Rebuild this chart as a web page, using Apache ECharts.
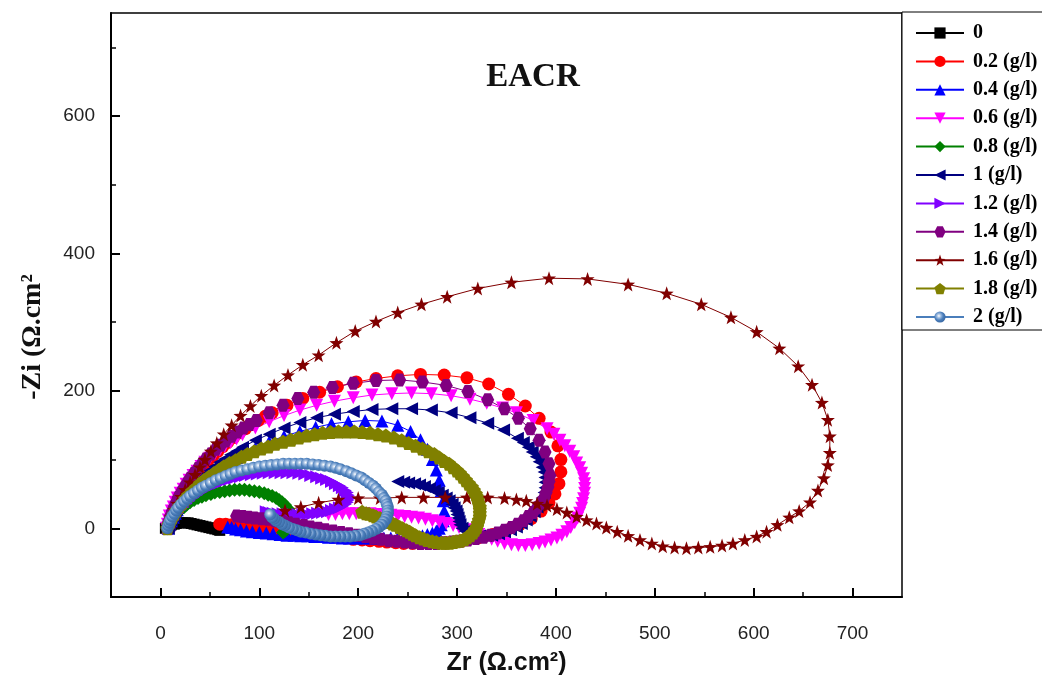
<!DOCTYPE html>
<html>
<head>
<meta charset="utf-8">
<script src="https://cdn.jsdelivr.net/npm/echarts@6/dist/echarts.min.js"></script>
<style>
  html, body { margin: 0; padding: 0; background: #fff; }
  #chart { width: 1042px; height: 685px; }
</style>
</head>
<body>
<div id="chart"></div>
<script>
// axis ticks
const xMajorTicks = [0, 100, 200, 300, 400, 500, 600, 700];
const xMinorTicks = [50, 150, 250, 350, 450, 550, 650];
const yMajorTicks = [0, 200, 400, 600];
const yMinorTicks = [100, 300, 500, 700];

const seriesNames = ['0', '0.2 (g/l)', '0.4 (g/l)', '0.6 (g/l)', '0.8 (g/l)', '1 (g/l)',
  '1.2 (g/l)', '1.4 (g/l)', '1.6 (g/l)', '1.8 (g/l)', '2 (g/l)'];

// [Zr, -Zi] pairs
const c0 = [[5,0],[7,2],[9,3],[11,5],[14,6],[16,7],[19,8],[22,8],[25,8],[28,8],[31,7],[34,6],[37,5],
  [40,4],[43,3],[46,2],[49,1],[52,0],[55,-1],[58,-2],[60,-3]];

const c02 = [[9,0],[10,6],[11,11],[12,17],[14,23],[16,30],[18,36],[20,42],[23,49],[26,56],[29,63],
  [32,70],[36,77],[40,84],[44,91],[48,98],[53,105],[58,112],[63,119],[68,125],[74,132],[80,139],
  [86,145],[92,151],[99,157],[106,163],[113,168],[128,179],[144,189],[161,198],[179,206],[198,213],
  [218,218],[240,222],[263,224],[287,223],[310,219],[332,210],[352,195],[369,178],[383,160],[395,140],
  [402,120],[405,100],[405,82],[403,65],[399,50],[393,37],[385,25],[375,14],[363,5],[350,-3],[336,-9],
  [321,-14],[305,-18],[297,-20],[289,-21],[280,-22],[272,-22],[263,-22],[255,-22],[246,-22],[238,-21],
  [229,-20],[221,-19],[212,-18],[204,-17],[195,-16],[187,-14],[178,-13],[170,-11],[161,-10],[153,-8],
  [144,-7],[136,-5],[127,-4],[119,-2],[110,0],[102,1],[94,2],[86,3],[79,4],[72,5],[66,6],[60,6]];

const c04 = [[8,0],[9,5],[11,11],[13,16],[15,22],[17,27],[20,33],[23,38],[26,44],[29,49],[33,55],
  [37,60],[41,66],[45,71],[50,77],[55,82],[60,88],[65,93],[71,98],[77,103],[83,108],[96,117],
  [110,126],[125,134],[141,141],[157,147],[173,152],[190,155],[207,157],[224,156],[240,150],[253,141],
  [263,129],[270,115],[275,100],[279,85],[282,70],[284,55],[286,40],[287,25],[287,18],[286,11],[284,5],
  [282,0],[279,-4],[275,-7],[270,-9],[265,-11],[259,-12],[253,-13],[246,-14],[240,-14],[233,-14],
  [226,-14],[219,-14],[212,-14],[205,-14],[198,-14],[191,-14],[184,-14],[177,-13],[170,-13],[163,-12],
  [156,-12],[149,-11],[142,-11],[135,-10],[128,-10],[121,-9],[114,-8],[107,-7],[100,-6],[93,-5],
  [87,-4],[81,-2],[76,-1],[72,1],[68,2]];

const c06 = [[6,0],[7,6],[8,12],[9,18],[11,25],[13,31],[15,38],[17,44],[20,51],[23,57],[26,64],
  [29,70],[33,77],[37,83],[41,90],[45,96],[50,102],[55,108],[60,114],[65,119],[71,125],[77,130],
  [83,136],[96,146],[110,155],[125,164],[141,172],[158,179],[176,185],[195,190],[214,194],[234,196],
  [254,197],[274,196],[294,193],[313,188],[330,182],[346,175],[360,168],[377,157],[391,145],[398,137],
  [404,128],[409,120],[414,112],[418,104],[421,95],[424,88],[426,80],[428,72],[429,65],[429,58],
  [429,51],[428,43],[427,36],[426,29],[424,22],[422,15],[419,8],[415,1],[411,-5],[406,-10],[401,-14],
  [395,-17],[389,-20],[383,-22],[376,-24],[369,-25],[362,-25],[355,-24],[348,-22],[341,-19],[335,-16],
  [328,-12],[322,-9],[315,-5],[309,-2],[302,1],[296,4],[289,7],[282,9],[275,11],[268,13],[261,15],
  [254,16],[247,17],[240,18],[233,19],[226,20],[219,20],[212,21],[205,21],[198,21],[191,21],[184,21],
  [177,20],[170,20]];

const c08 = [[7,0],[8,3],[9,7],[10,10],[12,14],[14,17],[16,21],[18,24],[21,28],[24,31],[27,35],
  [30,38],[34,41],[38,44],[42,46],[46,48],[51,50],[55,52],[60,53],[65,54],[70,55],[75,56],[80,56],
  [85,56],[90,55],[95,54],[100,53],[105,51],[109,49],[113,47],[117,44],[120,41],[123,38],[126,34],
  [128,30],[130,26],[131,22],[132,18],[132,14],[132,10],[131,6],[130,2],[128,-1],[126,-4],[124,-6]];

const c10 = [[8,0],[9,6],[11,12],[13,18],[15,24],[17,30],[20,36],[23,42],[26,48],[29,54],[33,60],
  [37,66],[41,72],[45,78],[50,84],[55,90],[60,96],[65,101],[71,107],[77,112],[83,118],[96,128],
  [110,137],[125,146],[141,154],[158,161],[176,166],[195,170],[214,173],[234,174],[254,174],[274,172],
  [294,168],[313,161],[331,153],[347,143],[361,131],[367,125],[372,118],[376,111],[380,104],[383,97],
  [386,89],[388,82],[389,74],[389,67],[389,59],[388,52],[386,44],[384,37],[381,31],[378,24],[374,18],
  [370,12],[365,7],[360,2],[354,-2],[348,-5],[342,-8],[335,-10],[329,-11],[323,-11],[317,-10],[312,-7],
  [308,-4],[305,0],[303,5],[302,10],[301,15],[300,20],[299,25],[297,30],[295,35],[292,40],[289,44],
  [285,48],[281,52],[277,55],[272,58],[267,61],[262,63],[257,65],[251,66],[246,67],[240,68]];

const c12 = [[8,0],[9,4],[11,9],[13,13],[15,18],[17,22],[20,27],[23,31],[26,36],[29,40],[33,45],
  [37,49],[41,53],[45,57],[50,60],[55,63],[60,66],[65,69],[70,71],[75,73],[81,75],[86,77],[92,78],
  [98,79],[104,80],[110,81],[116,81],[122,81],[128,81],[134,81],[140,80],[146,79],[152,77],[158,75],
  [163,73],[168,71],[173,68],[177,65],[181,62],[184,59],[187,55],[189,52],[190,48],[191,45],[190,41],
  [189,38],[187,35],[184,32],[181,30],[177,28],[173,26],[169,24],[164,23],[159,22],[154,21],[149,20],
  [144,20],[139,20],[134,20],[129,20],[124,21],[119,21],[114,22],[110,23],[107,24]];

const c14 = [[7,0],[8,6],[9,12],[10,18],[12,25],[14,31],[16,38],[18,45],[21,52],[24,59],[27,66],
  [30,73],[34,80],[38,87],[42,94],[46,101],[51,108],[56,115],[61,121],[66,127],[72,134],[78,140],
  [84,146],[90,151],[97,157],[110,168],[124,179],[139,189],[155,198],[174,205],[195,211],[218,215],
  [242,216],[265,213],[289,208],[311,199],[331,187],[348,174],[362,160],[374,145],[383,128],[389,111],
  [393,94],[394,77],[393,68],[392,60],[390,52],[388,44],[385,37],[381,30],[377,23],[372,17],[367,11],
  [361,6],[355,1],[348,-3],[341,-7],[334,-10],[327,-13],[319,-15],[311,-17],[303,-19],[295,-20],
  [287,-21],[279,-22],[271,-22],[263,-22],[255,-21],[247,-20],[239,-19],[231,-18],[223,-16],[215,-14],
  [207,-12],[199,-10],[191,-8],[183,-6],[175,-4],[167,-2],[160,0],[152,2],[145,4],[137,6],[130,8],
  [123,10],[116,11],[109,13],[102,14],[95,15],[89,16],[83,17],[77,18]];

const c16 = [[8,0],[9,8],[11,17],[14,27],[17,36],[21,46],[25,56],[30,67],[35,78],[40,89],
  [45,100],[51,112],[57,124],[64,137],[72,150],[81,164],[91,178],[102,193],[115,208],[129,223],
  [144,238],[160,252],[178,270],[197,287],[218,301],[240,314],[264,326],[290,337],[321,349],[355,358],
  [393,364],[432,363],[473,355],[512,342],[547,326],[577,307],[603,286],[626,262],[645,236],[659,209],
  [669,183],[675,158],[677,134],[677,110],[675,92],[671,73],[665,55],[657,38],[646,25],[636,16],
  [624,5],[613,-5],[603,-12],[591,-17],[579,-22],[568,-25],[556,-27],[544,-28],[532,-29],[520,-28],
  [508,-26],[497,-22],[485,-17],[473,-11],[462,-5],[451,1],[441,7],[431,12],[421,17],[411,23],
  [401,28],[391,33],[381,36],[370,40],[360,42],[348,44],[331,45],[310,45],[288,45],[266,45],
  [244,45],[222,44],[200,44],[180,42],[160,37],[142,31],[126,26]];

const c18 = [[7,0],[8,5],[10,10],[12,16],[14,21],[16,26],[19,32],[22,37],[25,43],[28,48],[32,54],
  [36,59],[40,65],[44,70],[49,75],[54,80],[59,85],[64,90],[70,95],[76,99],[82,104],[88,108],[95,112],
  [102,116],[109,119],[116,123],[124,126],[132,129],[140,132],[148,135],[156,137],[164,139],[172,140],
  [180,141],[188,141],[196,141],[204,140],[212,139],[220,137],[228,135],[236,132],[244,128],[251,124],
  [258,120],[265,116],[271,112],[277,108],[282,103],[287,98],[292,94],[296,89],[300,84],[303,80],
  [306,75],[309,70],[312,65],[315,60],[317,55],[319,50],[320,46],[321,41],[322,36],[323,31],[323,27],
  [323,22],[323,17],[322,12],[321,7],[320,2],[318,-2],[316,-6],[313,-10],[310,-13],[307,-16],[303,-18],
  [299,-19],[296,-20],[292,-21],[288,-21],[284,-21],[279,-20],[275,-19],[270,-17],[266,-15],[262,-13],
  [258,-10],[255,-8],[252,-5],[249,-3],[245,0],[242,2],[238,5],[235,7],[231,9],[228,11],[225,13],
  [222,15],[218,17],[215,19],[211,21],[208,22],[204,24]];

const c20 = [[7,0],[8,4],[9,8],[10,12],[12,17],[14,21],[16,26],[18,30],[21,35],[24,39],[27,43],
  [30,47],[34,51],[38,55],[42,59],[46,62],[51,66],[56,70],[61,73],[66,76],[71,79],[76,82],[82,84],
  [88,86],[94,88],[100,90],[106,91],[112,92],[118,93],[124,94],[130,94],[136,94],[142,94],[148,94],
  [154,93],[160,92],[166,91],[172,90],[177,88],[182,86],[188,83],[193,80],[198,77],[203,74],[207,70],
  [211,66],[215,62],[218,58],[221,53],[224,49],[226,44],[228,40],[229,35],[230,31],[230,26],[230,22],
  [229,17],[228,13],[226,9],[224,5],[221,2],[218,-1],[214,-4],[210,-6],[206,-8],[202,-10],[197,-11],
  [192,-12],[187,-12],[182,-12],[177,-12],[172,-12],[167,-11],[162,-10],[157,-9],[152,-8],[147,-6],
  [142,-5],[138,-3],[134,-1],[130,1],[126,4],[123,6],[120,9],[117,11],[115,14],[113,16],[111,20]];

const curves = [c0, c02, c04, c06, c08, c10, c12, c14, c16, c18, c20];

// marker shapes
const starPath = 'path://M50,0 L61.76,33.82 L97.55,34.55 L69.02,56.18 L79.39,90.45 L50,70 L20.61,90.45 L30.98,56.18 L2.45,34.55 L38.24,33.82 Z';
const pentagonPath = 'path://M50,0 L97.55,34.55 L79.39,90.45 L20.61,90.45 L2.45,34.55 Z';
const hexagonPath = 'path://M25,0 L75,0 L100,43.3 L75,86.6 L25,86.6 L0,43.3 Z';
const downTri = 'path://M0,0 L10,0 L5,9 Z';
const leftTri = 'path://M9,0 L9,10 L0,5 Z';
const rightTri = 'path://M0,0 L9,5 L0,10 Z';

const styles = [
  { color: '#000000', symbol: 'rect', size: 11 },
  { color: '#ff0000', symbol: 'circle', size: 13 },
  { color: '#0000ff', symbol: 'triangle', size: 13 },
  { color: '#ff00ff', symbol: downTri, size: 13 },
  { color: '#008000', symbol: 'diamond', size: 14 },
  { color: '#000080', symbol: leftTri, size: 13 },
  { color: '#8000ff', symbol: rightTri, size: 13 },
  { color: '#800080', symbol: hexagonPath, size: 13 },
  { color: '#800000', symbol: starPath, size: 14 },
  { color: '#808000', symbol: pentagonPath, size: 14 },
  { color: '#4a7ebb', symbol: 'circle', size: 12 }
];

const ballFill = {
  type: 'radial', x: 0.4, y: 0.4, r: 0.6,
  colorStops: [
    { offset: 0, color: '#ffffff' },
    { offset: 0.3, color: '#9dbbe0' },
    { offset: 0.65, color: '#4a7ebb' },
    { offset: 1, color: '#3a6aa5' }
  ]
};

const series = curves.map((pts, i) => ({
  name: seriesNames[i],
  type: 'line',
  data: pts,
  symbol: styles[i].symbol,
  symbolSize: styles[i].size,
  showAllSymbol: true,
  lineStyle: { color: styles[i].color, width: 1 },
  itemStyle: { color: i === 10 ? ballFill : styles[i].color },
  emphasis: { disabled: true },
  xAxisIndex: 0,
  yAxisIndex: 0
}));

const chart = echarts.init(document.getElementById('chart'));
chart.setOption({
  animation: false,
  backgroundColor: '#fff',
  title: {
    text: 'EACR',
    left: 528,
    top: 56,
    textAlign: 'center',
    textStyle: { fontFamily: 'Liberation Serif', fontWeight: 'bold', fontSize: 33, color: '#111' }
  },
  grid: {
    left: 111, right: 140, top: 13, bottom: 88,
    show: true, borderColor: '#000', borderWidth: 1.5, backgroundColor: 'transparent'
  },
  legend: {
    orient: 'vertical',
    left: 902,
    top: 12,
    padding: [11, 10, 3, 13],
    itemWidth: 48,
    itemHeight: 14,
    itemGap: 8.4,
    borderColor: '#000',
    borderWidth: 1,
    backgroundColor: '#fff',
    textStyle: { fontFamily: 'Liberation Serif', fontWeight: 'bold', fontSize: 20, color: '#000', padding: [0, 0, 0, 4] },
    data: seriesNames
  },
  xAxis: [
    {
      type: 'value', min: -50, max: 750,
      name: 'Zr (Ω.cm²)', nameLocation: 'middle', nameGap: 54,
      nameTextStyle: { fontFamily: 'Liberation Sans', fontWeight: 'bold', fontSize: 25, color: '#111' },
      axisLine: { onZero: false, lineStyle: { color: '#000', width: 2 } },
      axisTick: { inside: true, length: 9, customValues: xMajorTicks, lineStyle: { color: '#000', width: 2 } },
      axisLabel: { customValues: xMajorTicks, margin: 27, fontFamily: 'Liberation Sans Narrow, Liberation Sans', fontSize: 19, color: '#222' },
      splitLine: { show: false }
    },
    {
      type: 'value', min: -50, max: 750, position: 'bottom',
      axisLine: { show: false, onZero: false },
      axisTick: { inside: true, length: 5, customValues: xMinorTicks, lineStyle: { color: '#000', width: 1.5 } },
      axisLabel: { show: false },
      splitLine: { show: false }
    }
  ],
  yAxis: [
    {
      type: 'value', min: -100, max: 750,
      name: '-Zi (Ω.cm²', nameLocation: 'middle', nameGap: 64,
      nameTextStyle: { fontFamily: 'Liberation Serif', fontWeight: 'bold', fontSize: 28, color: '#111', padding: [0, 64, 0, 0] },
      axisLine: { onZero: false, lineStyle: { color: '#000', width: 2 } },
      axisTick: { inside: true, length: 9, customValues: yMajorTicks, lineStyle: { color: '#000', width: 2 } },
      axisLabel: { customValues: yMajorTicks, margin: 16, fontFamily: 'Liberation Sans', fontSize: 19, color: '#222' },
      splitLine: { show: false }
    },
    {
      type: 'value', min: -100, max: 750, position: 'left',
      axisLine: { show: false, onZero: false },
      axisTick: { inside: true, length: 5, customValues: yMinorTicks, lineStyle: { color: '#000', width: 1.5 } },
      axisLabel: { show: false },
      splitLine: { show: false }
    }
  ],
  series: series
});
</script>
</body>
</html>
